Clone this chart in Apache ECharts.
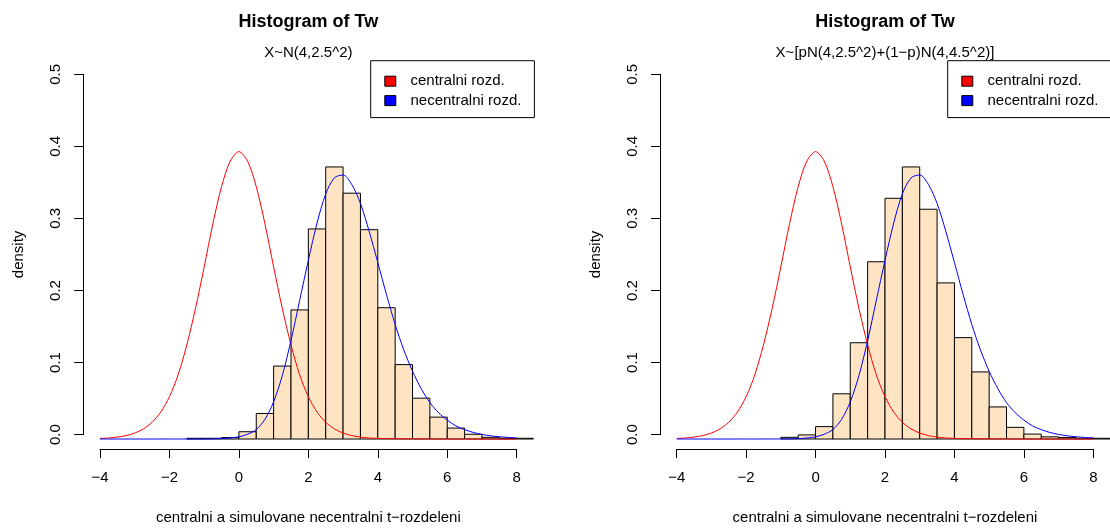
<!DOCTYPE html>
<html>
<head>
<meta charset="utf-8">
<script src="https://cdn.jsdelivr.net/npm/echarts@6/dist/echarts.min.js"></script>
<style>
html,body{margin:0;padding:0;background:#fff;}
#chart{width:1110px;height:530px;}
</style>
</head>
<body>
<div id="chart"></div>
<script>
// ---------------- data ----------------
const mainTitle = 'Histogram of Tw';
const subTitles = ['X~N(4,2.5^2)', 'X~[pN(4,2.5^2)+(1\u2212p)N(4,4.5^2)]'];
const xAxisTitle = 'centralni a simulovane necentralni t\u2212rozdeleni';
const yAxisTitle = 'density';
const legendNames = ['centralni rozd.', 'necentralni rozd.'];

const xTicks = [-4, -2, 0, 2, 4, 6, 8];
const yTicks = [0.0, 0.1, 0.2, 0.3, 0.4, 0.5];
const binWidth = 0.5;

// left histogram (bins start at these values)
const binStartsL = [-1.5, -1.0, -0.5, 0.0, 0.5, 1.0, 1.5, 2.0, 2.5, 3.0, 3.5, 4.0, 4.5, 5.0, 5.5, 6.0, 6.5, 7.0, 7.5, 8.0];
const densL      = [0.001, 0.001, 0.002, 0.010, 0.035, 0.100, 0.177, 0.288, 0.373, 0.337, 0.287, 0.180, 0.102, 0.056, 0.030, 0.015, 0.0065, 0.0023, 0.001, 0.001];

// right histogram
const binStartsR = [-1.0, -0.5, 0.0, 0.5, 1.0, 1.5, 2.0, 2.5, 3.0, 3.5, 4.0, 4.5, 5.0, 5.5, 6.0, 6.5, 7.0, 7.5, 8.0];
const densR      = [0.0023, 0.0056, 0.017, 0.062, 0.132, 0.243, 0.330, 0.373, 0.315, 0.214, 0.139, 0.092, 0.044, 0.016, 0.0068, 0.003, 0.002, 0.001, 0.001];

// density curves
const curveX = [-4, -3.75, -3.5, -3.25, -3, -2.75, -2.5, -2.25, -2, -1.75, -1.5, -1.25, -1, -0.75, -0.5, -0.25,
  0, 0.25, 0.5, 0.75, 1, 1.25, 1.5, 1.75, 2, 2.25, 2.5, 2.75, 3, 3.25, 3.5, 3.75,
  4, 4.25, 4.5, 4.75, 5, 5.25, 5.5, 5.75, 6, 6.25, 6.5, 6.75, 7, 7.25, 7.5, 7.75, 8];
const centralY = [0.0009, 0.0014, 0.0027, 0.0047, 0.0082, 0.0139, 0.023, 0.037, 0.058, 0.088, 0.129, 0.179, 0.236, 0.295, 0.346, 0.381,
  0.394, 0.381, 0.346, 0.295, 0.236, 0.179, 0.129, 0.088, 0.058, 0.037, 0.023, 0.0139, 0.0082, 0.0047, 0.0027, 0.0014,
  0.0009, 0.0006, 0.0004, 0.0003, 0.0002, 0.00015, 0.0001, 0.00008, 0.00006, 0.00005, 0.00004, 0.00003, 0.00002, 0.00002, 0.00001, 0.00001, 0.00001];
const noncentralY = [0, 0, 0, 0, 0, 0, 0, 0.00001, 0.00001, 0.00002, 0.00003, 0.00006, 0.0001, 0.0003, 0.0006, 0.0014,
  0.003, 0.0065, 0.013, 0.027, 0.051, 0.087, 0.135, 0.190, 0.245, 0.296, 0.336, 0.358, 0.362, 0.349, 0.323, 0.285,
  0.242, 0.198, 0.157, 0.122, 0.093, 0.069, 0.050, 0.036, 0.026, 0.018, 0.0128, 0.009, 0.0063, 0.0044, 0.0031, 0.0022, 0.0016];

// ---------------- chart ----------------
const FONT = '"Liberation Sans", Arial, Helvetica, sans-serif';
const chart = echarts.init(document.getElementById('chart'), null, {renderer: 'canvas'});

const histData = (starts, dens) => starts.map((s, i) => [s, s + binWidth, dens[i]]);
const pairs = (ys) => curveX.map((x, i) => [x, ys[i]]);
const minusFmt = v => (v < 0 ? '\u2212' + Math.abs(v) : String(v));

// layout per panel
const panels = [
  {dataLeft: 83.33, axisLeft: 100.0, axisWidth: 416.7, sub: subTitles[0], hist: histData(binStartsL, densL), legendLeft: 370.7},
  {dataLeft: 660.0, axisLeft: 676.7, axisWidth: 416.6, sub: subTitles[1], hist: histData(binStartsR, densR), legendLeft: 947.7}
];
const axisTop = 74.3, axisHeight = 364.7;   // 0..0.5
const dataTop = 59.71, dataHeight = 393.9;  // -0.02..0.52
const xPad = 0.48, yPad = 0.02;

const grid = [], xAxis = [], yAxis = [], series = [], legend = [], graphic = [];
const axisColor = '#000';

panels.forEach((p, k) => {
  const gData = grid.length;
  grid.push({left: p.dataLeft, top: dataTop, width: p.axisWidth + 2 * (p.axisLeft - p.dataLeft), height: dataHeight, containLabel: false});
  const gAxis = grid.length;
  grid.push({left: p.axisLeft, top: axisTop, width: p.axisWidth, height: axisHeight, containLabel: false});

  xAxis.push({gridIndex: gData, type: 'value', min: xTicks[0] - xPad, max: xTicks[xTicks.length - 1] + xPad, show: false});
  yAxis.push({gridIndex: gData, type: 'value', min: yTicks[0] - yPad, max: yTicks[yTicks.length - 1] + yPad, show: false});

  xAxis.push({
    gridIndex: gAxis, type: 'value', min: xTicks[0], max: xTicks[xTicks.length - 1], interval: xTicks[1] - xTicks[0],
    position: 'bottom', offset: 14.4,
    axisLine: {show: true, onZero: false, lineStyle: {color: axisColor, width: 1}},
    axisTick: {show: true, inside: false, length: 9, lineStyle: {color: axisColor, width: 1}},
    axisLabel: {show: true, margin: 21, color: '#000', fontSize: 15, fontFamily: FONT, formatter: minusFmt, showMinLabel: true, showMaxLabel: true},
    splitLine: {show: false},
    name: xAxisTitle, nameLocation: 'middle', nameGap: 61,
    nameTextStyle: {color: '#000', fontSize: 15, fontFamily: FONT}
  });
  yAxis.push({
    gridIndex: gAxis, type: 'value', min: yTicks[0], max: yTicks[yTicks.length - 1], interval: yTicks[1] - yTicks[0],
    position: 'left', offset: 16.7,
    axisLine: {show: true, onZero: false, lineStyle: {color: axisColor, width: 1}},
    axisTick: {show: true, inside: false, length: 9, lineStyle: {color: axisColor, width: 1}},
    axisLabel: {show: true, rotate: 90, margin: 20, color: '#000', fontSize: 15, fontFamily: FONT, formatter: v => v.toFixed(1), showMinLabel: true, showMaxLabel: true},
    splitLine: {show: false},
    name: yAxisTitle, nameLocation: 'middle', nameGap: 57, nameRotate: 90,
    nameTextStyle: {color: '#000', fontSize: 15, fontFamily: FONT}
  });

  const xi = xAxis.length - 2, yi = yAxis.length - 2;
  series.push({
    type: 'custom', xAxisIndex: xi, yAxisIndex: yi, data: p.hist, silent: true,
    encode: {x: [0, 1], y: 2},
    renderItem: function (params, api) {
      const a = api.coord([api.value(0), api.value(2)]);
      const b = api.coord([api.value(1), 0]);
      const shape = echarts.graphic.clipRectByRect(
        {x: a[0], y: a[1], width: b[0] - a[0], height: b[1] - a[1]},
        {x: params.coordSys.x, y: params.coordSys.y, width: params.coordSys.width, height: params.coordSys.height});
      return shape && {type: 'rect', shape: shape, style: {fill: '#FFE4C4', stroke: '#000', lineWidth: 1}};
    },
    z: 2
  });
  series.push({
    type: 'line', name: legendNames[0], xAxisIndex: xi, yAxisIndex: yi, data: pairs(centralY),
    smooth: 0.3, showSymbol: false, symbol: 'none', color: '#ff0000', lineStyle: {color: '#ff0000', width: 1}, silent: true, z: 3
  });
  series.push({
    type: 'line', name: legendNames[1], xAxisIndex: xi, yAxisIndex: yi, data: pairs(noncentralY),
    smooth: 0.3, showSymbol: false, symbol: 'none', color: '#0000ff', lineStyle: {color: '#0000ff', width: 1}, silent: true, z: 4
  });

  legend.push({
    left: p.legendLeft, top: 60.7, orient: 'vertical', selectedMode: false, icon: 'rect',
    itemWidth: 11, itemHeight: 10, itemGap: 4.4, padding: [13, 13, 9.5, 13.6],
    borderColor: '#000', borderWidth: 1, backgroundColor: '#fff',
    data: [
      {name: legendNames[0], itemStyle: {color: '#ff0000', borderColor: '#000', borderWidth: 1}},
      {name: legendNames[1], itemStyle: {color: '#0000ff', borderColor: '#000', borderWidth: 1}}
    ],
    textStyle: {fontSize: 15, fontFamily: FONT, color: '#000', lineHeight: 15, padding: [0, 0, 0, 9.7]}
  });

  const cx = p.axisLeft + p.axisWidth / 2;
  graphic.push({type: 'text', x: cx, y: 22, style: {text: mainTitle, align: 'center', verticalAlign: 'middle', font: 'bold 18px ' + FONT, fill: '#000'}});
  graphic.push({type: 'text', x: cx, y: 53, style: {text: p.sub, align: 'center', verticalAlign: 'middle', font: '15px ' + FONT, fill: '#000'}});
});

chart.setOption({
  animation: false,
  backgroundColor: '#fff',
  grid, xAxis, yAxis, series, legend, graphic
});
</script>
</body>
</html>
